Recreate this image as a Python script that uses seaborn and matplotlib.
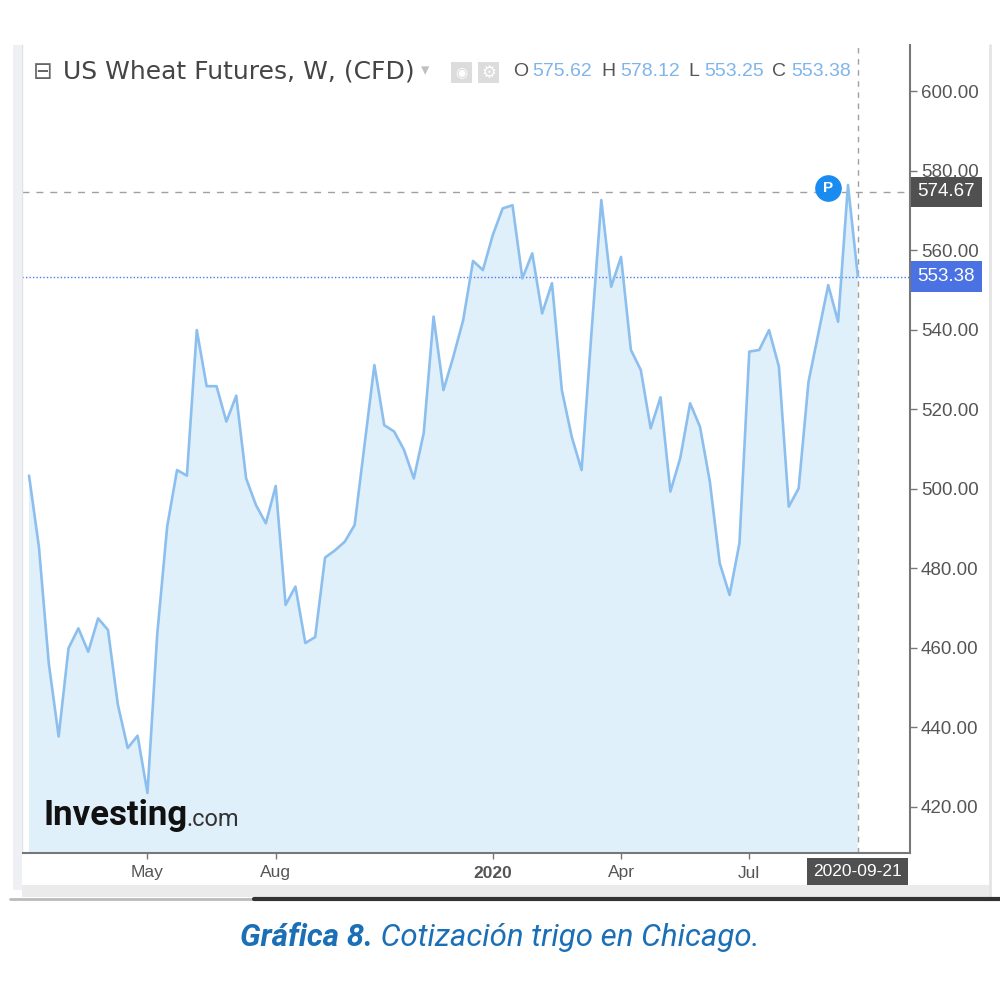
import numpy as np
import pandas as pd
import seaborn as sns
import matplotlib.pyplot as plt
from matplotlib.patches import Rectangle
from matplotlib.lines import Line2D
import matplotlib.transforms as mtransforms

# weekly closes (Feb 2019 - Sep 2020)
prices = [503.3, 485.4, 456.1, 437.7, 459.9, 464.9, 459.0, 467.4, 464.5, 445.7,
          434.8, 437.9, 423.5, 463.7, 490.5, 504.7, 503.3, 539.9, 525.8, 525.8,
          516.9, 523.4, 502.6, 495.9, 491.3, 500.7, 470.8, 475.4, 461.2, 462.7,
          482.7, 484.5, 486.7, 490.9, 511.0, 531.1, 516.0, 514.4, 509.8, 502.6,
          514.0, 543.3, 524.8, 533.2, 542.4, 557.3, 555.0, 563.8, 570.5, 571.3,
          552.9, 559.2, 544.1, 551.7, 524.8, 513.1, 504.7, 539.1, 572.6, 550.8,
          558.3, 534.9, 529.9, 515.2, 523.0, 499.3, 507.7, 521.5, 515.6, 501.8,
          481.3, 473.3, 486.3, 534.5, 534.9, 539.9, 530.7, 495.5, 500.1, 526.9,
          539.1, 551.2, 542.0, 576.4, 553.38]
dates = pd.date_range("2019-02-11", periods=len(prices), freq="7D")

tick_dates = pd.to_datetime(["2019-05-06", "2019-08-05", "2020-01-06", "2020-04-06", "2020-07-06"])
tick_labels = ["May", "Aug", "2020", "Apr", "Jul"]
y_ticks = [420, 440, 460, 480, 500, 520, 540, 560, 580, 600]

ohlc_keys = ["O", "H", "L", "C"]
ohlc_vals = ["575.62", "578.12", "553.25", "553.38"]
ohlc_x = [513, 601, 688, 772]
high_line = 574.67
last_close = 553.38
last_date = "2020-09-21"

LINE = "#8cbfee"
FILL = "#e0f0fa"
GREY = "#555555"

sns.set_style("white")
plt.rcParams["font.family"] = ["Liberation Sans", "DejaVu Sans"]

fig = plt.figure(figsize=(10, 10), dpi=100)


def fx(x):
    return x / 1000


def fy(y):
    return 1 - y / 1000


ax = fig.add_axes([fx(22), fy(853), fx(910) - fx(22), fy(45) - fy(853)])
ax.set_facecolor("white")

df = pd.DataFrame({"date": dates, "price": prices})
ax.fill_between(df["date"], df["price"], 300, color=FILL, lw=0, zorder=1)
sns.lineplot(data=df, x="date", y="price", ax=ax, color=LINE, linewidth=1.9, zorder=3)

ax.set_xlim(dates[0] - pd.Timedelta(days=5), dates[0] + pd.Timedelta(days=625))
ax.set_ylim(408.4, 611.6)
ax.set_xlabel("")
ax.set_ylabel("")

# reference lines
ax.axhline(high_line, color="#a0a0a0", lw=1, ls=(0, (5, 5)), zorder=2)
ax.axhline(last_close, color="#4f78f0", lw=1, ls=(0, (1, 1.5)), zorder=2)
ax.axvline(dates[-1], color="#a0a0a0", lw=1, ls=(0, (4, 4)), zorder=2)

# y axis on the right
ax.yaxis.tick_right()
ax.set_yticks(y_ticks)
ax.set_yticklabels([f"{v:.2f}" for v in y_ticks])
ax.tick_params(axis="y", which="both", right=True, left=False, length=5, width=1,
               color="#777777", labelsize=13.5, labelcolor=GREY, pad=3)
ax.set_xticks(tick_dates)
ax.set_xticklabels(tick_labels)
ax.tick_params(axis="x", bottom=True, length=4, width=1, color="#777777",
               labelsize=12.5, labelcolor=GREY, pad=5)
ax.get_xticklabels()[2].set_fontweight("bold")

ax.spines["top"].set_visible(False)
ax.spines["left"].set_color("#dfe3e8")
ax.spines["left"].set_linewidth(1)
ax.spines["right"].set_color("#777777")
ax.spines["right"].set_linewidth(1.5)
ax.spines["bottom"].set_color("#777777")
ax.spines["bottom"].set_linewidth(1.5)

# price tags on the right axis
yt = mtransforms.blended_transform_factory(ax.transAxes, ax.transData)
ax.text(1.0085, high_line, f"{high_line:.2f}", transform=yt, ha="left", va="center",
        fontsize=13.5, color="white",
        bbox=dict(boxstyle="square,pad=0.35", fc="#505050", ec="none"))
ax.text(1.0085, last_close, f"{last_close:.2f}", transform=yt, ha="left", va="center",
        fontsize=13.5, color="white",
        bbox=dict(boxstyle="square,pad=0.35", fc="#4a72e3", ec="none"))

# date tag under the last bar
xt = mtransforms.blended_transform_factory(ax.transData, ax.transAxes)
ax.text(dates[-1], -0.0225, last_date, transform=xt, ha="center", va="center",
        fontsize=12.5, color="white", clip_on=False,
        bbox=dict(boxstyle="square,pad=0.35", fc="#505050", ec="none"))

# "P" marker
ax.scatter([0.9077], [0.823], s=330, color="#1a8cf0", transform=ax.transAxes,
           zorder=5, clip_on=False)
ax.text(0.9077, 0.823, "P", transform=ax.transAxes, ha="center", va="center",
        color="white", fontsize=11, fontweight="bold", zorder=6)

# header
fig.text(fx(33), fy(72), "⊟", fontsize=17, color="#666666", va="center",
         family="DejaVu Sans")
fig.text(fx(63), fy(72), "US Wheat Futures, W, (CFD)", fontsize=18, color="#454545",
         va="center", family="DejaVu Sans")
fig.text(fx(421), fy(70), "▾", fontsize=12, color="#c0c0c0", va="center",
         family="DejaVu Sans")
for x0 in (451, 478):
    fig.add_artist(Rectangle((fx(x0), fy(83)), 0.021, 0.021, transform=fig.transFigure,
                             fc="#dcdcdc", ec="none"))
fig.text(fx(461.5), fy(72.5), "◉", fontsize=10, color="white", ha="center", va="center",
         family="DejaVu Sans")
fig.text(fx(488.5), fy(72.5), "⚙", fontsize=12, color="white", ha="center", va="center",
         family="DejaVu Sans")
for k, v, x0 in zip(ohlc_keys, ohlc_vals, ohlc_x):
    fig.text(fx(x0), fy(72), k, fontsize=14, color="#555555", va="center")
    fig.text(fx(x0 + 19 if k != "L" else x0 + 16), fy(72), v, fontsize=14,
             color="#7fb5ea", va="center")

# Investing.com watermark
fig.text(fx(43), fy(816), "Investing", fontsize=25, fontweight="bold", color="#111111",
         va="center", family="Roboto")
fig.text(fx(186), fy(820), ".com", fontsize=17, color="#333333", va="center",
         family="Roboto")

# frame decorations outside the plot
fig.add_artist(Rectangle((fx(13), fy(890)), fx(9), fy(45) - fy(890),
                         transform=fig.transFigure, fc="#eef0f3", ec="none"))
fig.add_artist(Line2D([fx(990), fx(990)], [fy(45), fy(897)], transform=fig.transFigure,
                      color="#e4e4e4", lw=2))
fig.add_artist(Rectangle((fx(22), fy(897)), fx(968), fy(885) - fy(897),
                         transform=fig.transFigure, fc="#ebebeb", ec="none"))
fig.add_artist(Line2D([fx(10), fx(254)], [fy(898.5), fy(898.5)], transform=fig.transFigure,
                      color="#bbbbbb", lw=2))
fig.add_artist(Line2D([fx(254), fx(1000)], [fy(898.5), fy(898.5)], transform=fig.transFigure,
                      color="#333333", lw=3))

# caption
fig.canvas.draw()
r = fig.canvas.get_renderer()
t1 = fig.text(0, fy(938), "Gráfica 8.", fontsize=22.5, fontweight="bold", style="italic",
              color="#1b6fb6", va="center", family="Roboto")
t2 = fig.text(0, fy(938), " Cotización trigo en Chicago.", fontsize=22.5, style="italic",
              color="#1b6fb6", va="center", family="Roboto")
w1 = t1.get_window_extent(r).width / 1000
w2 = t2.get_window_extent(r).width / 1000
x_start = 0.5 - (w1 + w2) / 2
t1.set_x(x_start)
t2.set_x(x_start + w1)

fig.savefig("out.png", dpi=100, facecolor="white")
